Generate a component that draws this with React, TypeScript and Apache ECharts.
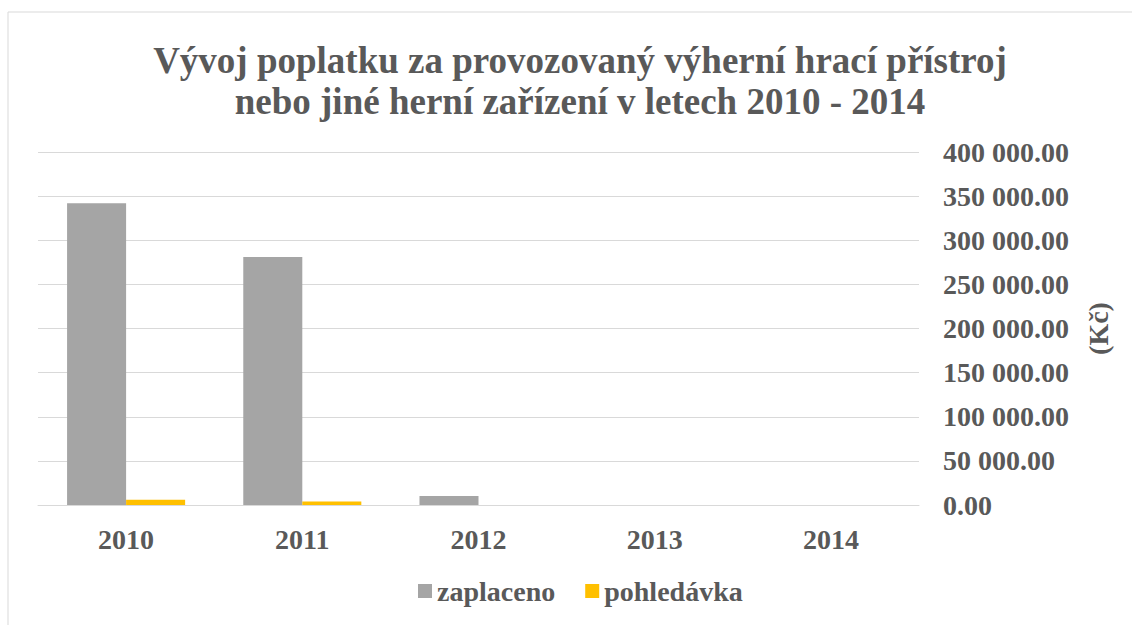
import React, { useEffect, useRef } from "react";
import * as echarts from "echarts";

const categories = ["2010", "2011", "2012", "2013", "2014"];
const zaplaceno = [342000, 281000, 10200, 0, 0];
const pohledavka = [6000, 4000, 0, 0, 0];
const titleLines = [
  "Vývoj poplatku za provozovaný výherní hrací přístroj",
  "nebo jiné herní zařízení v letech 2010 - 2014",
];
const axisName = "(Kč)";

const FONT = "Liberation Serif";
const TEXT = "#595959";

function fmt(v: number): string {
  const s = Math.round(v).toString().replace(/\B(?=(\d{3})+(?!\d))/g, " ");
  return s + ".00";
}

export default function App() {
  const ref = useRef<HTMLDivElement>(null);
  useEffect(() => {
    document.body.style.margin = "0";
    const chart = echarts.init(ref.current!, null, { renderer: "svg" });
    chart.setOption({
      animation: false,
      backgroundColor: "#ffffff",
      textStyle: { fontFamily: FONT },
      title: {
        text: titleLines.join("\n"),
        left: 575,
        textAlign: "center",
        top: 35,
        textStyle: {
          fontFamily: FONT,
          fontWeight: "bold",
          fontSize: 37,
          lineHeight: 41,
          color: TEXT,
        },
      },
      graphic: [
        {
          type: "rect",
          shape: { x: 8, y: 12, width: 1300, height: 800 },
          style: { fill: "none", stroke: "#d9d9d9", lineWidth: 1 },
          silent: true,
        },
      ],
      grid: { left: 38, right: 213, top: 152, bottom: 120 },
      legend: {
        bottom: 15,
        left: 413,
        icon: "rect",
        itemWidth: 14,
        itemHeight: 14,
        itemGap: 30,
        textStyle: { fontFamily: FONT, fontWeight: "bold", fontSize: 28, color: TEXT },
        data: ["zaplaceno", "pohledávka"],
      },
      xAxis: {
        type: "category",
        data: categories,
        axisLine: { lineStyle: { color: "#d9d9d9" } },
        axisTick: { show: false },
        axisLabel: {
          margin: 20,
          fontFamily: FONT,
          fontWeight: "bold",
          fontSize: 28,
          color: TEXT,
        },
      },
      yAxis: {
        type: "value",
        position: "right",
        min: 0,
        max: 400000,
        interval: 50000,
        name: axisName,
        nameLocation: "middle",
        nameRotate: 90,
        nameGap: 165,
        nameTextStyle: { fontFamily: FONT, fontWeight: "bold", fontSize: 28, color: TEXT },
        axisLine: { show: false },
        axisTick: { show: false },
        splitLine: { lineStyle: { color: "#d9d9d9" } },
        axisLabel: {
          margin: 24,
          formatter: (v: number) => fmt(v),
          fontFamily: FONT,
          fontWeight: "bold",
          fontSize: 28,
          color: TEXT,
          align: "left",
        },
      },
      series: [
        {
          name: "zaplaceno",
          type: "bar",
          data: zaplaceno,
          itemStyle: { color: "#a5a5a5" },
          barGap: "0%",
          barCategoryGap: "33%",
        },
        {
          name: "pohledávka",
          type: "bar",
          data: pohledavka,
          itemStyle: { color: "#ffc000" },
          barGap: "0%",
          barCategoryGap: "33%",
        },
      ],
    });
    return () => chart.dispose();
  }, []);
  return <div ref={ref} style={{ width: 1132, height: 625 }} />;
}
